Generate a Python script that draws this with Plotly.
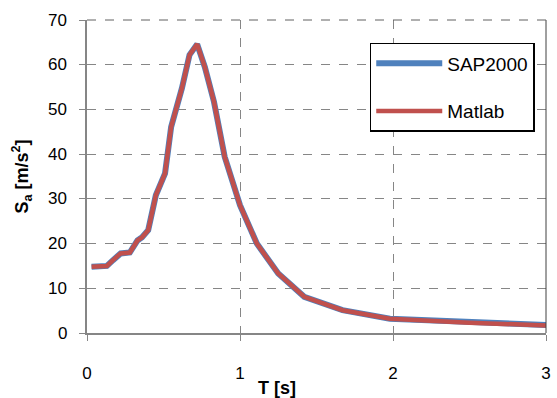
import plotly.graph_objects as go

T = [0.03, 0.08, 0.13, 0.17, 0.22, 0.28, 0.33, 0.36, 0.40, 0.45, 0.51, 0.55, 0.62, 0.67, 0.72,
     0.77, 0.83, 0.90, 1.00, 1.11, 1.25, 1.42, 1.67, 1.98, 2.50, 3.00]
sap2000 = [14.8, 15.0, 15.0, 16.3, 17.8, 18.0, 20.7, 21.4, 23.0, 30.8, 35.7, 46.1, 54.7, 62.2, 64.6,
           59.5, 51.7, 39.4, 28.6, 20.0, 13.3, 8.1, 5.1, 3.2, 2.4, 1.8]
matlab = [14.8, 15.0, 15.0, 16.3, 17.8, 18.0, 20.7, 21.4, 23.0, 30.8, 35.7, 46.1, 54.7, 62.2, 64.6,
          59.5, 51.7, 39.4, 28.6, 20.0, 13.3, 8.1, 5.1, 3.2, 2.3, 1.7]
x_ticks = [0, 1, 2, 3]
y_ticks = [0, 10, 20, 30, 40, 50, 60, 70]

FONT = "Liberation Sans"
fig = go.Figure()
fig.add_trace(go.Scatter(x=T, y=sap2000, mode="lines", name="SAP2000",
                         line=dict(color="#4F81BD", width=6), legendgroup="a"))
fig.add_trace(go.Scatter(x=T, y=matlab, mode="lines", name="Matlab",
                         line=dict(color="#C0504D", width=4.5), legendgroup="b"))

grid = dict(showgrid=True, gridcolor="#868686", griddash="dash", gridwidth=1,
            showline=True, linecolor="#868686", linewidth=1.5, zeroline=False,
            ticks="outside", ticklen=6, tickcolor="#868686",
            tickfont=dict(family=FONT, size=17, color="black"))
fig.update_xaxes(range=[0, 3], tickvals=x_ticks, ticklabelstandoff=18, **grid)
fig.update_yaxes(range=[0, 70], tickvals=y_ticks, showticklabels=False, **grid)
for v in y_ticks:
    fig.add_annotation(text=str(v), x=0, xref="paper", y=v, yref="y",
                       xanchor="right", yanchor="middle", xshift=-18,
                       showarrow=False, font=dict(family=FONT, size=17, color="black"))
fig.add_annotation(text="<b>S<sub>a</sub> [m/s<sup>2</sup>]</b>", x=0, xref="paper",
                   y=0.5, yref="paper", xanchor="center", yanchor="middle",
                   xshift=-65, textangle=-90, showarrow=False,
                   font=dict(family=FONT, size=18, color="black"))
fig.add_shape(type="line", xref="paper", yref="paper", x0=1, x1=1, y0=0, y1=1,
              line=dict(color="#404040", width=1))
fig.add_shape(type="line", xref="paper", yref="paper", x0=0, x1=1, y0=1, y1=1,
              line=dict(color="#606060", width=1, dash="dash"))
fig.add_annotation(text="<b>T [s]</b>", x=1.24, xref="x", y=-0.176, yref="paper",
                   yanchor="middle", xanchor="center",
                   showarrow=False, font=dict(family=FONT, size=18, color="black"))
fig.update_layout(
    width=557, height=398, margin=dict(l=87, r=6, t=20, b=65),
    paper_bgcolor="white", plot_bgcolor="white",
    legend=dict(x=0.616, y=0.927, xanchor="left", yanchor="top",
                bordercolor="black", borderwidth=1.5, bgcolor="white",
                font=dict(family=FONT, size=19, color="black"),
                tracegroupgap=20, itemwidth=66),
)
fig.write_html("out.html")
